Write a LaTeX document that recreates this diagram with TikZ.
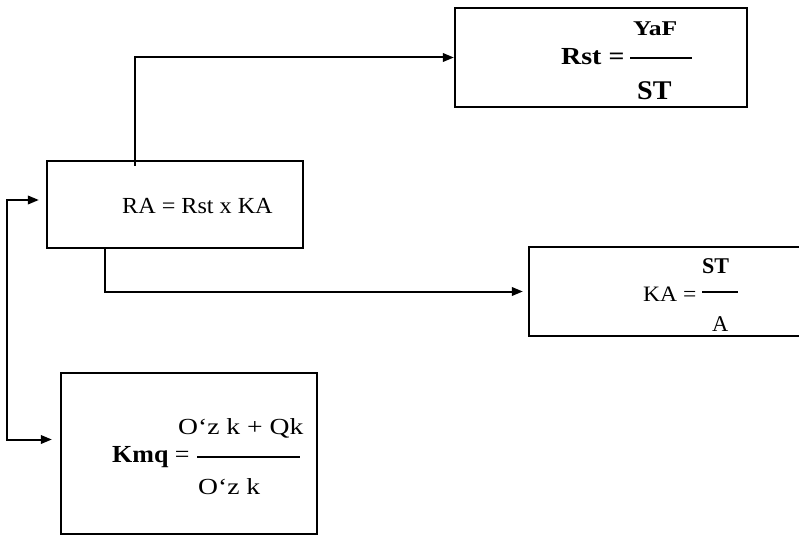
\documentclass[tikz,border=0pt]{standalone}
\usepackage{fontspec}
\setmainfont{Liberation Serif}
\usepackage{graphicx}
\usetikzlibrary{arrows.meta}
\newcommand\mytxt[3]{\scalebox{#2}[1]{\fontsize{#1}{#1}\selectfont #3}}
\begin{document}
\begin{tikzpicture}[x=1pt,y=-1pt,
  box/.style={draw,line width=2.3pt,rectangle,inner sep=0pt},
  conn/.style={line width=2pt,-{Triangle[length=11pt,width=8.5pt]}},
  lbl/.style={inner sep=0pt,anchor=base west},
  fracline/.style={line width=2.8pt}]
\useasboundingbox (0,0) rectangle (799,537);
% boxes
\node[box,minimum width=292pt,minimum height=99pt] (rst) at (601,57.5) {};
\node[box,minimum width=256pt,minimum height=87pt] (ra) at (175,204.5) {};
\node[box,minimum width=280pt,minimum height=89pt] (ka) at (669,291.5) {};
\node[box,minimum width=256pt,minimum height=161pt] (kmq) at (189,453.5) {};
% texts
\node[lbl] (t1) at (561,65) {\mytxt{24.5}{1.14}{\bfseries Rst =}};
\node[lbl] (t2) at (633,36) {\mytxt{21}{1.22}{\bfseries YaF}};
\node[lbl] (t3) at (637,100) {\mytxt{27}{1.04}{\bfseries ST}};
\draw[fracline] (630,58) -- (692,58);
\node[lbl] (t4) at (122,214) {\mytxt{23}{1.05}{RA = Rst x KA}};
\node[lbl] (t5) at (643,301) {\mytxt{22}{1.07}{KA =}};
\node[lbl] (t6) at (702,273) {\mytxt{22.5}{0.98}{\bfseries ST}};
\node[lbl] (t7) at (712,331) {\mytxt{22.5}{1}{A}};
\draw[fracline] (702,292) -- (738,292);
\node[lbl] (t8) at (112,462) {\mytxt{24.5}{1.06}{\textbf{Kmq} =}};
\node[lbl] (t9) at (178,434) {\mytxt{23}{1.2}{O‘z k + Qk}};
\node[lbl] (t10) at (198,494) {\mytxt{23}{1.2}{O‘z k}};
\draw[fracline] (197,457) -- (300,457);
% connector helpers
\coordinate (xa) at (135,0);
\coordinate (xb) at (105,0);
\coordinate (xl) at (7,0);
\coordinate (rain) at ([xshift=-7pt,yshift=4.5pt]ra.west);
\coordinate (kmqin) at ([xshift=-8pt,yshift=14pt]kmq.west);
% connectors
\draw[conn] ([yshift=-6pt]xa |- ra.north) |- (rst.west);
\draw[conn,shorten >=5pt] (xb |- ra.south) |- (ka.west);
\draw[line width=2pt,{Triangle[length=11pt,width=8.5pt]}-{Triangle[length=11pt,width=8.5pt]}] (rain) -- (rain -| xl) -- (kmqin -| xl) -- (kmqin);
\end{tikzpicture}
\end{document}
